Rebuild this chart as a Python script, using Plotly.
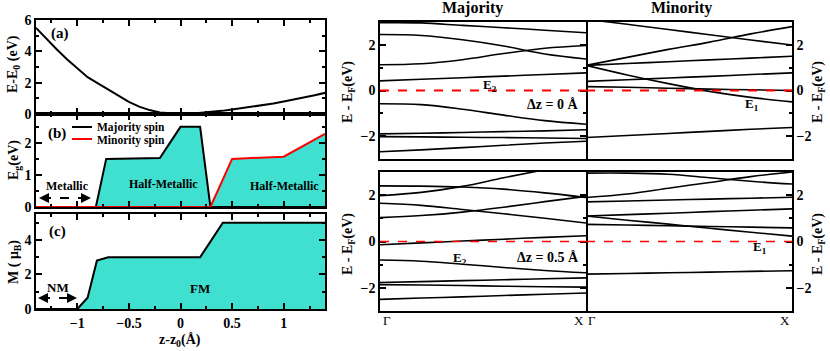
import plotly.graph_objects as go

# ---------------------------------------------------------------------------
# Data
# ---------------------------------------------------------------------------
# (a) total energy vs displacement
z_a = [-1.4, -1.3, -1.2, -1.1, -1.0, -0.9, -0.8, -0.7, -0.6, -0.5, -0.4, -0.3, -0.2, -0.1,
       0.0, 0.1, 0.2, 0.3, 0.4, 0.5, 0.6, 0.7, 0.8, 0.9, 1.0, 1.1, 1.2, 1.3, 1.4]
energy = [5.5, 4.8, 4.13, 3.5, 2.9, 2.35, 1.95, 1.55, 1.15, 0.78, 0.47, 0.25, 0.1, 0.03,
          0.0, 0.02, 0.07, 0.13, 0.2, 0.28, 0.37, 0.46, 0.56, 0.67, 0.8, 0.92, 1.05, 1.2, 1.35]

# (b) band gaps
z_maj = [-1.4, -0.82, -0.72, -0.2, 0.0, 0.19, 0.29, 1.4]
gap_maj = [0, 0, 1.5, 1.53, 2.5, 2.5, 0, 0]
z_min = [-1.4, 0.29, 0.5, 1.0, 1.4]
gap_min = [0, 0, 1.5, 1.57, 2.28]

# (c) magnetic moment
z_m = [-1.4, -1.0, -0.9, -0.81, -0.7, 0.19, 0.29, 0.41, 1.4]
moment = [0, 0, 0.65, 2.8, 3.0, 3.0, 3.9, 5.0, 5.0]

# band structures, k from Gamma (0) to X (1)
k = [0, 0.2, 0.4, 0.6, 0.8, 1.0]
maj_dz0 = [
    [2.97, 2.96, 2.85, 2.75, 2.64, 2.53],
    [2.45, 2.41, 2.22, 1.95, 1.6, 1.38],
    [1.13, 1.17, 1.35, 1.62, 1.85, 1.97],
    [0.42, 0.49, 0.56, 0.63, 0.70, 0.77],
    [-0.58, -0.62, -0.82, -1.08, -1.32, -1.48],
    [-1.9, -1.87, -1.84, -1.8, -1.77, -1.72],
    [-2.02, -2.03, -2.05, -2.06, -2.08, -2.1],
    [-2.68, -2.6, -2.5, -2.4, -2.3, -2.22],
]
min_dz0 = [
    [3.12, 2.9, 2.67, 2.44, 2.21, 1.99],
    [1.1, 1.45, 1.8, 2.12, 2.48, 2.8],
    [1.1, 1.18, 1.26, 1.34, 1.42, 1.5],
    [0.4, 0.47, 0.55, 0.62, 0.7, 0.77],
    [1.1, 0.68, 0.3, -0.04, -0.3, -0.5],
    [0.17, 0.14, 0.1, 0.06, 0.03, 0.0],
    [-2.06, -1.97, -1.88, -1.79, -1.7, -1.62],
]
maj_dz05 = [
    [2.4, 2.39, 2.35, 2.26, 2.1, 1.9],
    [1.98, 2.12, 2.38, 2.75, 3.1, 3.45],
    [1.65, 1.56, 1.38, 1.2, 1.0, 0.8],
    [1.03, 1.12, 1.27, 1.48, 1.72, 1.95],
    [-0.14, -0.06, 0.02, 0.1, 0.18, 0.25],
    [-0.8, -0.85, -0.98, -1.12, -1.25, -1.35],
    [-1.77, -1.73, -1.69, -1.65, -1.61, -1.57],
    [-1.86, -1.88, -1.9, -1.93, -1.95, -1.97],
    [-2.5, -2.44, -2.39, -2.33, -2.28, -2.22],
]
min_dz05 = [
    [2.95, 2.95, 2.9, 2.75, 2.6, 2.48],
    [1.9, 2.05, 2.3, 2.55, 2.8, 3.0],
    [1.71, 1.75, 1.79, 1.83, 1.87, 1.91],
    [1.1, 1.16, 1.22, 1.29, 1.35, 1.41],
    [1.1, 0.92, 0.75, 0.57, 0.4, 0.23],
    [0.74, 0.71, 0.68, 0.65, 0.62, 0.59],
    [-1.41, -1.38, -1.35, -1.32, -1.29, -1.26],
]

# ---------------------------------------------------------------------------
# Layout helpers
# ---------------------------------------------------------------------------
W, H = 830, 351
FILL = 'rgb(64,224,208)'
FONT = 'Liberation Serif'


def px(p):
    return p / W


def py(p):
    return 1 - p / H


def frame(**kw):
    base = dict(showline=True, linecolor='black', linewidth=1.5, mirror='ticks', ticks='inside',
                ticklen=6, tickwidth=1.5, tickcolor='black', showgrid=False, zeroline=False,
                automargin=False, tickfont=dict(size=14))
    base.update(kw)
    return base


fig = go.Figure()

# (a)
fig.add_trace(go.Scatter(x=z_a, y=energy, mode='lines', line=dict(color='black', width=2),
                         xaxis='x', yaxis='y'))
# (b)
fig.add_trace(go.Scatter(x=z_maj, y=gap_maj, mode='none', fill='tozeroy', fillcolor=FILL,
                         xaxis='x2', yaxis='y2'))
fig.add_trace(go.Scatter(x=z_min, y=gap_min, mode='none', fill='tozeroy', fillcolor=FILL,
                         xaxis='x2', yaxis='y2'))
fig.add_trace(go.Scatter(x=z_maj, y=gap_maj, mode='lines', line=dict(color='black', width=2),
                         xaxis='x2', yaxis='y2'))
fig.add_trace(go.Scatter(x=z_min, y=gap_min, mode='lines', line=dict(color='red', width=2),
                         xaxis='x2', yaxis='y2'))
# (c)
fig.add_trace(go.Scatter(x=z_m, y=moment, mode='lines', fill='tozeroy', fillcolor=FILL,
                         line=dict(color='black', width=2), xaxis='x3', yaxis='y3'))

# bands
for bands, ax in [(maj_dz0, '4'), (min_dz0, '5'), (maj_dz05, '6'), (min_dz05, '7')]:
    for b in bands:
        fig.add_trace(go.Scatter(x=k, y=b, mode='lines', line=dict(color='black', width=1.6, shape='spline'),
                                 xaxis='x' + ax, yaxis='y' + ax))

left_x = [px(36), px(325)]
maj_x = [px(380), px(586)]
min_x = [px(586), px(792)]
top_y = [py(159), py(22)]
bot_y = [py(311), py(172)]

zx = dict(range=[-1.4, 1.4], dtick=0.5, minor=dict(ticks='inside', ticklen=3, dtick=0.25, tickcolor='black'))
band_x = dict(range=[0, 1], ticks='', showticklabels=False, mirror=True)
band_y = dict(range=[-3, 3], tickvals=[-2, 0, 2],
              minor=dict(ticks='inside', ticklen=3, tickvals=[-3, -1, 1, 3], tickcolor='black'))

fig.update_layout(
    width=W, height=H, margin=dict(l=0, r=0, t=0, b=0, autoexpand=False),
    paper_bgcolor='white', plot_bgcolor='white', showlegend=False,
    font=dict(family=FONT, size=14, color='black', weight='bold'),
    xaxis=frame(domain=left_x, anchor='y', showticklabels=False, **zx),
    yaxis=frame(domain=[py(114), py(20)], anchor='x', range=[0, 6], dtick=2,
                minor=dict(ticks='inside', ticklen=3, dtick=1, tickcolor='black')),
    xaxis2=frame(domain=left_x, anchor='y2', showticklabels=False, **zx),
    yaxis2=frame(domain=[py(207), py(114)], anchor='x2', range=[0, 2.9], dtick=1,
                 minor=dict(ticks='inside', ticklen=3, dtick=0.5, tickcolor='black')),
    xaxis3=frame(domain=left_x, anchor='y3', **zx),
    yaxis3=frame(domain=[py(309), py(214)], anchor='x3', range=[0, 5.5], dtick=2,
                 minor=dict(ticks='inside', ticklen=3, dtick=1, tickcolor='black')),
    xaxis4=frame(domain=maj_x, anchor='y4', **band_x),
    yaxis4=frame(domain=top_y, anchor='x4', **band_y),
    xaxis5=frame(domain=min_x, anchor='y5', **band_x),
    yaxis5=frame(domain=top_y, anchor='x5', side='right', **band_y),
    xaxis6=frame(domain=maj_x, anchor='y6', **band_x),
    yaxis6=frame(domain=bot_y, anchor='x6', **band_y),
    xaxis7=frame(domain=min_x, anchor='y7', **band_x),
    yaxis7=frame(domain=bot_y, anchor='x7', side='right', **band_y),
)
fig.update_layout(yaxis5=dict(mirror=False), yaxis7=dict(mirror=False))

# Fermi level
shapes = []
for ax, w in [('4', 2), ('5', 2), ('6', 1.3), ('7', 1.3)]:
    shapes.append(dict(type='line', xref='x' + ax + ' domain', yref='y' + ax, x0=0, x1=1, y0=0, y1=0,
                       line=dict(color='red', width=w, dash='dash')))
# dashed double arrows
for x0, x1, yy in [(42, 88, 198), (41, 74, 298)]:
    shapes.append(dict(type='line', xref='paper', yref='paper', x0=px(x0), x1=px(x1), y0=py(yy), y1=py(yy),
                       line=dict(color='black', width=2, dash='dash')))
# legend samples in (b)
for yy, col in [(127, 'black'), (139, 'red')]:
    shapes.append(dict(type='line', xref='paper', yref='paper', x0=px(72), x1=px(92), y0=py(yy), y1=py(yy),
                       line=dict(color=col, width=2)))
fig.update_layout(shapes=shapes)

ann = []


def text(t, x, y, size=14, **kw):
    d = dict(text=t, x=px(x), y=py(y), xref='paper', yref='paper', showarrow=False,
             xanchor='center', yanchor='middle', font=dict(size=size))
    d.update(kw)
    ann.append(d)


def arrowhead(x, y, dx):
    ann.append(dict(text='', x=px(x), y=py(y), xref='paper', yref='paper', showarrow=True,
                    ax=dx, ay=0, arrowhead=2, arrowsize=1, arrowwidth=2, arrowcolor='black'))


text('(a)', 60, 33, 15)
text('(b)', 57, 133, 15)
text('(c)', 57, 231, 15)
text('Majority spin', 95, 127, 11.5, xanchor='left')
text('Minority spin', 95, 140, 11.5, xanchor='left')
text('Metallic', 67, 186, 12)
text('Half-Metallic', 163, 184, 12)
text('Half-Metallic', 284, 186, 12)
text('NM', 58, 287, 13)
text('FM', 200, 288, 13)
arrowhead(39, 198, 10)
arrowhead(91, 198, -10)
arrowhead(38, 298, 10)
arrowhead(77, 298, -10)

text('E-E<sub>0</sub> (eV)', 14, 64, 14, textangle=-90)
text('E<sub>g</sub>(eV)', 14, 160, 14, textangle=-90)
text('M ( μ<sub>B</sub>)', 14, 262, 14, textangle=-90)
text('z-z<sub>0</sub>(Å)', 180, 340, 14)

text('Majority', 472, 8, 16)
text('Minority', 681, 8, 16)
text('E - E<sub>F</sub>(eV)', 348, 92, 14, textangle=-90)
text('E - E<sub>F</sub>(eV)', 348, 244, 14, textangle=-90)
text('E - E<sub>F</sub>(eV)', 818, 92, 14, textangle=-90)
text('E - E<sub>F</sub>(eV)', 818, 244, 14, textangle=-90)

text('E<sub>2</sub>', 490, 85, 13)
text('Δz = 0 Å', 552, 104, 14)
text('E<sub>1</sub>', 752, 104, 13)
text('E<sub>2</sub>', 460, 258, 13)
text('Δz = 0.5 Å', 548, 257, 14)
text('E<sub>1</sub>', 760, 247, 13)

text('Γ', 381, 320, 13, xanchor='left', font=dict(size=13, weight='normal'))
text('X', 586, 320, 13, xanchor='right', font=dict(size=13, weight='normal'))
text('Γ', 586, 320, 13, xanchor='left', font=dict(size=13, weight='normal'))
text('X', 792, 320, 13, xanchor='right', font=dict(size=13, weight='normal'))

fig.update_layout(annotations=ann)

# drop the page's default body margin so the figure sits at the window origin
fig.write_html("out.html", config={'displayModeBar': False},
               post_script="document.body.style.margin='0';")
